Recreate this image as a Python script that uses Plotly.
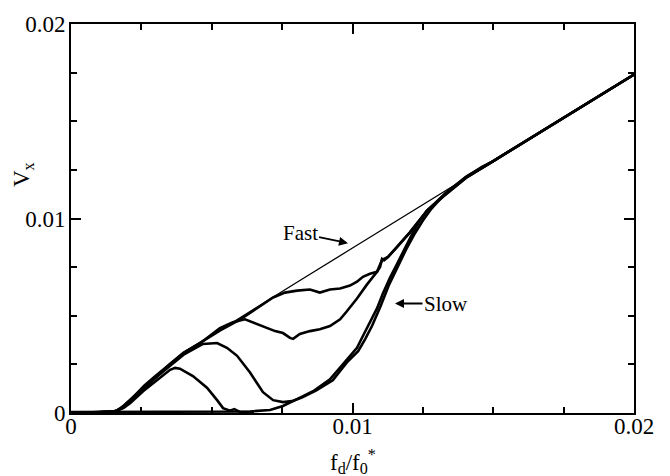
import plotly.graph_objects as go

# Drive force f_d/f_0* and transverse velocity V_x for each sweep
fast_f = [0, 0.0010, 0.0015, 0.00174, 0.0020, 0.00245, 0.0030, 0.0035, 0.0040, 0.0046,
          0.0060, 0.0080, 0.0100, 0.0128, 0.0150, 0.0200]
fast_v = [0, 0.00002, 0.00006, 0.00025, 0.0006, 0.00117, 0.0019, 0.0025, 0.0031, 0.00362,
          0.0049, 0.0067, 0.00848, 0.01098, 0.01295, 0.0174]

a_f = [0, 0.0010, 0.0015, 0.00185, 0.0021, 0.00256, 0.00316, 0.00352, 0.0037, 0.00387,
       0.00433, 0.00483, 0.00519, 0.0054, 0.00565, 0.0058, 0.0060, 0.0065]
a_v = [0, 0.00003, 0.00008, 0.00025, 0.0005, 0.00112, 0.0018, 0.00222, 0.00232, 0.00228,
       0.0019, 0.0013, 0.00066, 0.00025, 0.00012, 0.0002, 0.00006, 0.00005]

b_f = [0, 0.0010, 0.0016, 0.0019, 0.0022, 0.0026, 0.0030, 0.0035, 0.0040, 0.00469,
       0.0050, 0.00519, 0.00554, 0.0059, 0.00636, 0.00682, 0.00718, 0.00753, 0.00785,
       0.0082, 0.0087, 0.0093, 0.0098, 0.0102, 0.01045, 0.0107, 0.0110, 0.0113, 0.0116,
       0.0119, 0.0122, 0.0125, 0.0128, 0.0133, 0.0140, 0.0146, 0.0150, 0.0200]
b_v = [0, 0.00003, 0.00008, 0.0003, 0.0007, 0.00125, 0.0018, 0.0024, 0.0030, 0.00355,
       0.0036, 0.0036, 0.00335, 0.00294, 0.00208, 0.00107, 0.00066, 0.00056, 0.00061,
       0.0008, 0.00115, 0.00168, 0.0026, 0.00318, 0.0038, 0.0045, 0.0055, 0.0066, 0.0075,
       0.0084, 0.0092, 0.0099, 0.0105, 0.0113, 0.0121, 0.01265, 0.01295, 0.0174]

c_f = [0, 0.0010, 0.0016, 0.0019, 0.0022, 0.0026, 0.0030, 0.0035, 0.0040, 0.0046,
       0.00529, 0.00575, 0.00618, 0.00654, 0.00689, 0.00725, 0.00753, 0.00778, 0.00789,
       0.00813, 0.00849, 0.00884, 0.0092, 0.00956, 0.0098, 0.01016, 0.01051, 0.01087,
       0.01105, 0.01126, 0.01158, 0.01204, 0.01265, 0.01321, 0.01407, 0.0149, 0.0200]
c_v = [0, 0.00003, 0.0001, 0.00035, 0.00075, 0.0013, 0.00185, 0.0025, 0.0031, 0.0036,
       0.00437, 0.00467, 0.00482, 0.00462, 0.00442, 0.00421, 0.00411, 0.00386, 0.00381,
       0.00406, 0.00421, 0.00431, 0.00447, 0.00482, 0.00523, 0.00589, 0.0066, 0.00726,
       0.00787, 0.00802, 0.00853, 0.00929, 0.01041, 0.01112, 0.01213, 0.01286, 0.0174]

d_f = [0, 0.0010, 0.0016, 0.0019, 0.0022, 0.0026, 0.0030, 0.0035, 0.0040, 0.0046,
       0.0053, 0.0060, 0.00678, 0.00718, 0.0076, 0.00803, 0.00849, 0.00884, 0.0092,
       0.00956, 0.00991, 0.01016, 0.01037, 0.01062, 0.01087, 0.01098, 0.01105, 0.01112,
       0.01126, 0.01158, 0.01204, 0.01265, 0.01321, 0.01407, 0.0149, 0.0200]
d_v = [0, 0.00003, 0.0001, 0.0004, 0.0008, 0.0014, 0.0019, 0.0025, 0.0031, 0.00362,
       0.00425, 0.0048, 0.00555, 0.00594, 0.00619, 0.00629, 0.00635, 0.00619, 0.00635,
       0.0064, 0.00655, 0.00675, 0.007, 0.00716, 0.00726, 0.00751, 0.00792, 0.00785,
       0.00802, 0.00853, 0.00929, 0.01041, 0.01112, 0.01213, 0.01286, 0.0174]

slow_f = [0, 0.00458, 0.00636, 0.00707, 0.00753, 0.00803, 0.0086, 0.0092, 0.00966,
          0.01016, 0.01037, 0.01062, 0.01087, 0.01108, 0.01133, 0.01158, 0.01179, 0.01215,
          0.0124, 0.01265, 0.01321, 0.01407, 0.01463, 0.0150, 0.0200]
slow_v = [0.00005, 0.00005, 0.00008, 0.00015, 0.00036, 0.00071, 0.00112, 0.00173, 0.00249,
          0.00335, 0.00396, 0.00467, 0.00538, 0.00614, 0.00695, 0.00766, 0.00827, 0.00929,
          0.0099, 0.01041, 0.01117, 0.01218, 0.01264, 0.01295, 0.0174]

tick_vals = [0, 0.01, 0.02]
tick_text = ["0", "0.01", "0.02"]

SERIF = "Liberation Serif"

fig = go.Figure()

thick = dict(color="black", width=2.6)
for xs, ys in [(slow_f, slow_v), (a_f, a_v), (b_f, b_v), (c_f, c_v), (d_f, d_v)]:
    fig.add_trace(go.Scatter(x=xs, y=ys, mode="lines", line=thick,
                             showlegend=False, hoverinfo="skip"))
fig.add_trace(go.Scatter(x=fast_f, y=fast_v, mode="lines",
                         line=dict(color="black", width=1.3),
                         showlegend=False, hoverinfo="skip"))

axis_common = dict(
    range=[0, 0.02],
    tickvals=tick_vals,
    ticktext=tick_text,
    ticks="inside",
    ticklen=10,
    tickwidth=1.5,
    tickcolor="black",
    showline=True,
    linewidth=2,
    linecolor="black",
    mirror="allticks",
    showgrid=False,
    zeroline=False,
    tickfont=dict(family=SERIF, size=23, color="black"),
    minor=dict(dtick=0.0025, tick0=0, ticks="inside", ticklen=6,
               tickwidth=1.5, tickcolor="black", showgrid=False),
)

fig.update_layout(
    width=670,
    height=476,
    margin=dict(l=71, r=36, t=19, b=63),
    paper_bgcolor="white",
    plot_bgcolor="white",
    xaxis=dict(axis_common, ticklabelstandoff=-9),
    yaxis=dict(axis_common, ticklabelstandoff=-1),
    font=dict(family=SERIF, color="black"),
    annotations=[
        dict(text="f<sub>d</sub>/f<sub>0</sub><sup>*</sup>", xref="paper", yref="paper",
             x=0.5, y=-0.125, xanchor="center", yanchor="middle", showarrow=False,
             font=dict(family=SERIF, size=23, color="black")),
        dict(text="V<sub>x</sub>", xref="paper", yref="paper",
             x=-0.085, y=0.612, xanchor="center", yanchor="middle", showarrow=False,
             textangle=-90, font=dict(family=SERIF, size=23, color="black")),
        dict(text="Fast", x=0.00984, y=0.00873, xref="x", yref="y",
             ax=-48, ay=-10, showarrow=True, arrowhead=2, arrowsize=1,
             arrowwidth=1.8, arrowcolor="black", standoff=0,
             font=dict(family=SERIF, size=21, color="black")),
        dict(text="Slow", x=0.01151, y=0.00563, xref="x", yref="y",
             ax=51, ay=0, showarrow=True, arrowhead=2, arrowsize=1,
             arrowwidth=1.8, arrowcolor="black", standoff=0,
             font=dict(family=SERIF, size=21, color="black")),
    ],
)

fig.write_html("out.html")
